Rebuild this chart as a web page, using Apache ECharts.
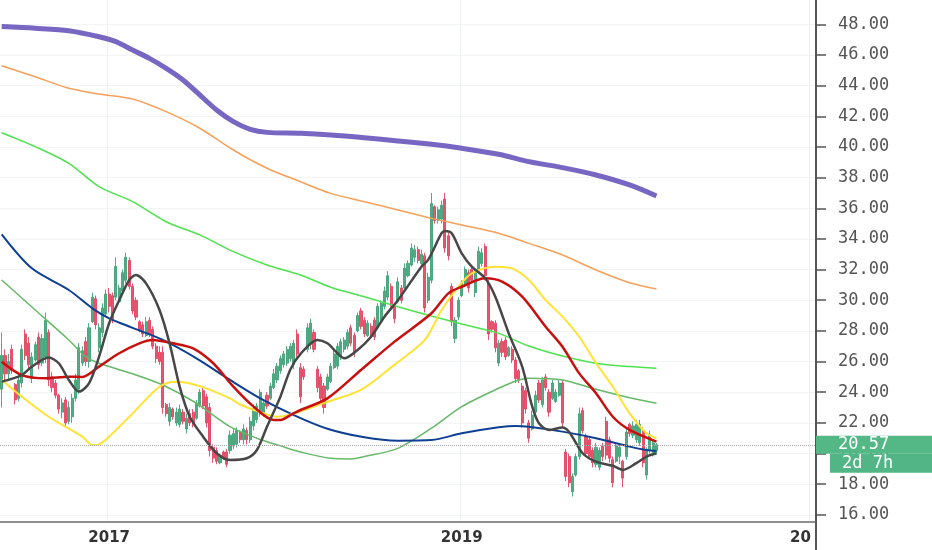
<!DOCTYPE html>
<html>
<head>
<meta charset="utf-8">
<script src="https://cdn.jsdelivr.net/npm/echarts@6.0.0/dist/echarts.min.js"></script>
<style>
  html, body { margin: 0; padding: 0; background: #fff; }
  #chart { width: 932px; height: 550px; }
</style>
</head>
<body>
<div id="chart"></div>
<script>
// weekly bars, first bar week of 2016-05-23
const firstWeek = Date.UTC(2016, 4, 23);
const weekCount = 243;

// [open, close, low, high] per week
const candles = [
  [24.2,26.4,23.0,27.9],[26.4,25.2,24.6,26.8],[25.2,26.0,24.8,26.5],[26.8,25.4,25.2,27.1],[24.5,23.5,23.2,24.6],
  [23.6,24.8,23.4,25.2],[24.6,26.8,24.3,27.1],[27.8,26.4,26.1,28.1],[27.2,25.8,25.4,27.6],[24.9,26.3,24.6,26.6],
  [26.1,27.1,26.0,27.3],[27.6,25.8,25.5,27.9],[25.9,27.5,25.7,27.8],[26.3,28.7,25.9,29.2],[27.9,24.8,24.4,28.1],
  [25.0,24.3,24.0,25.3],[24.6,23.8,23.6,24.8],[23.8,22.9,22.6,23.9],[22.7,23.3,22.3,23.6],[23.5,22.0,21.7,23.7],
  [22.1,23.0,21.9,23.4],[22.4,23.6,22.0,23.9],[23.6,24.8,23.4,25.2],[24.2,26.9,23.9,27.2],[25.9,26.7,25.7,27.0],
  [27.3,26.0,25.7,27.6],[26.0,28.2,25.6,28.5],[28.6,30.2,28.5,30.5],[30.1,28.4,28.1,30.3],[26.9,28.2,26.6,28.5],
  [27.9,29.5,27.6,29.8],[29.1,30.4,28.9,30.7],[30.4,29.6,29.2,30.8],[30.3,28.8,28.5,30.5],[30.2,32.2,30.0,32.8],
  [29.9,30.8,29.8,31.0],[30.6,31.8,30.5,32.0],[31.3,32.8,31.1,33.1],[32.6,30.9,30.7,32.8],[30.9,29.3,29.1,31.1],
  [30.0,28.9,28.7,30.2],[28.6,28.0,27.9,28.7],[28.4,27.8,27.6,28.6],[27.7,28.6,27.6,28.9],[28.7,27.8,27.6,28.9],
  [28.1,27.0,26.8,28.3],[27.0,26.2,25.9,27.2],[26.6,26.0,25.8,27.0],[26.6,23.0,22.6,27.0],[23.2,22.6,22.4,23.3],
  [22.1,23.0,21.8,23.3],[22.9,22.4,22.2,23.0],[22.0,22.7,21.8,23.0],[21.9,22.9,21.7,23.2],[22.7,22.1,21.9,22.9],
  [21.6,22.3,21.3,22.6],[22.6,22.0,21.8,22.9],[22.7,21.9,21.7,22.9],[22.3,23.3,22.2,23.5],[23.1,24.0,23.0,24.2],
  [24.1,23.1,22.9,24.3],[23.7,22.0,21.7,23.9],[23.0,20.2,19.8,23.3],[20.4,19.7,19.4,20.6],[20.2,19.5,19.3,20.4],
  [19.4,19.9,19.3,20.0],[20.1,19.7,19.6,20.2],[20.1,19.3,19.1,20.3],[20.2,21.2,20.0,21.5],[20.5,21.3,20.3,21.6],
  [20.6,21.5,20.4,21.7],[21.4,20.9,20.7,21.5],[20.9,21.6,20.6,21.9],[21.5,20.9,20.6,21.7],[20.9,22.1,20.7,22.4],
  [21.8,22.9,21.5,23.2],[22.2,23.1,22.0,23.3],[22.6,24.0,22.4,24.2],[22.6,23.3,22.4,23.5],[23.8,23.1,22.9,24.0],
  [23.6,24.4,23.5,24.6],[24.3,25.2,24.2,25.5],[24.8,25.7,24.6,25.9],[25.4,26.2,25.2,26.4],[25.8,26.5,25.6,26.7],
  [25.9,26.8,25.7,27.0],[26.2,27.0,26.0,27.2],[25.8,27.2,25.5,27.4],[27.8,26.5,26.3,28.1],[25.6,23.7,23.3,25.9],
  [25.5,25.0,24.8,25.7],[26.8,28.2,26.6,28.5],[27.1,28.5,26.8,28.8],[27.9,26.8,26.6,28.1],[25.5,24.3,24.0,25.7],
  [25.0,23.6,23.3,25.2],[24.4,23.0,22.6,24.6],[24.2,25.0,24.1,25.2],[24.7,25.7,24.6,25.9],[25.6,26.5,25.5,26.8],
  [25.7,27.0,25.5,27.2],[26.3,27.3,26.1,27.5],[26.8,27.4,26.6,27.6],[27.0,27.9,26.8,28.1],[28.2,27.2,27.0,28.4],
  [27.7,26.6,26.3,27.9],[28.0,29.0,27.9,29.2],[29.3,28.3,28.1,29.5],[28.7,27.8,27.6,28.9],[27.7,28.5,27.6,28.7],
  [28.3,27.8,27.6,28.5],[28.7,27.6,27.4,28.9],[28.2,29.6,28.1,29.8],[28.7,29.8,28.5,30.0],[29.6,30.6,29.4,30.9],
  [30.2,31.6,30.0,31.9],[30.9,29.6,29.3,31.1],[29.6,28.8,28.5,29.8],[29.9,31.2,29.8,31.5],[30.8,30.0,29.8,31.0],
  [30.8,32.1,30.7,32.4],[31.6,32.4,31.5,32.6],[32.3,33.4,32.2,33.7],[32.8,33.3,32.5,33.6],[33.3,32.6,32.4,33.5],
  [32.4,33.0,32.2,33.3],[32.9,29.5,29.2,33.1],[30.0,31.5,29.8,31.8],[31.3,36.3,31.1,37.0],[36.1,35.2,35.0,36.2],
  [35.2,35.9,35.0,36.1],[35.3,36.2,35.0,36.5],[36.6,33.4,33.1,37.0],[34.2,32.9,32.6,34.4],[30.9,28.6,28.3,31.1],
  [27.5,28.7,27.2,28.9],[28.9,30.0,28.7,30.2],[30.3,31.1,30.2,31.3],[31.0,32.0,30.9,32.2],[31.8,30.8,30.5,32.0],
  [32.0,31.3,31.1,32.2],[30.5,31.8,30.2,32.0],[31.9,33.2,31.8,33.5],[32.4,33.1,32.2,33.4],[33.5,31.6,31.3,33.7],
  [31.1,27.8,27.4,31.3],[28.6,28.1,27.9,28.7],[28.5,26.9,26.6,28.7],[25.9,27.2,25.7,27.4],[27.3,26.6,26.3,27.5],
  [27.4,26.3,26.1,27.6],[26.4,26.9,26.3,27.0],[26.8,26.1,25.9,27.0],[26.1,24.9,24.6,26.3],[25.4,24.8,24.6,25.5],
  [24.4,22.0,21.7,24.6],[24.1,22.9,22.6,24.3],[22.0,21.0,20.7,22.2],[21.6,22.5,21.5,22.8],[22.7,23.8,22.6,24.1],
  [24.6,23.5,23.3,24.8],[23.2,24.8,23.0,25.0],[25.0,24.3,24.1,25.2],[24.0,22.7,22.4,24.2],[23.6,24.6,23.5,24.8],
  [23.4,24.0,23.3,24.2],[23.8,24.6,23.7,24.8],[24.6,22.0,21.7,24.8],[20.1,18.5,18.2,20.3],[19.8,18.1,17.8,20.0],
  [17.5,18.5,17.2,18.7],[18.6,19.8,18.5,20.0],[19.8,22.6,19.6,23.0],[22.8,21.5,21.3,23.0],[21.1,20.0,19.8,21.3],
  [20.9,19.8,19.6,21.1],[20.2,19.4,19.1,20.4],[19.3,20.4,19.1,20.7],[19.1,20.2,18.9,20.4],[20.5,19.8,19.5,20.7],
  [22.1,19.9,19.6,22.4],[20.9,19.7,19.4,21.1],[19.6,18.1,17.8,19.8],[19.5,20.5,19.4,20.7],[19.8,20.4,19.3,20.6],
  [19.5,18.4,17.8,19.6],[19.8,21.4,19.6,21.7],[21.9,21.3,21.1,22.0],[21.2,21.8,21.0,22.1],[20.9,21.9,20.7,22.2],
  [20.7,21.9,20.5,22.2],[21.5,19.4,19.1,21.7],[18.6,20.2,18.3,20.4],[20.2,21.2,20.0,21.5],[20.0,20.7,19.8,20.9],
  [20.2,20.57,20.0,20.7]
];
const lastClose = 20.57;
const countdown = '2d 7h';

// moving averages as [week index, value]
const maPurple = [[0,47.85],[10,47.74],[20,47.58],[29,47.19],[34,46.87],[39,46.32],[44,45.78],[49,45.13],[54,44.37],[59,43.39],[64,42.41],[69,41.65],[74,41.15],[79,40.95],[89,40.89],[98,40.78],[108,40.6],[118,40.39],[128,40.17],[137,39.91],[148,39.52],[157,39.04],[167,38.65],[177,38.17],[187,37.52],[195,36.8]];
const maOrange = [[0,45.3],[10,44.58],[20,43.83],[29,43.45],[39,43.13],[49,42.3],[59,41.22],[69,39.8],[79,38.61],[89,37.73],[98,36.97],[108,36.43],[118,35.89],[128,35.34],[137,34.91],[148,34.37],[157,33.71],[167,32.95],[177,31.97],[187,31.14],[195,30.73]];
const maLime = [[0,40.93],[10,40.02],[20,38.93],[29,37.41],[39,36.43],[49,35.12],[59,34.26],[69,33.17],[79,32.3],[89,31.65],[98,30.85],[108,30.23],[118,29.58],[128,28.97],[137,28.45],[148,27.84],[157,27.01],[167,26.36],[177,25.89],[187,25.67],[195,25.56]];
const maGreen = [[0,31.32],[10,29.36],[20,27.41],[25,26.32],[29,25.89],[39,25.2],[48,24.47],[58,23.28],[68,21.75],[76,21.0],[83,20.5],[89,20.1],[98,19.69],[104,19.65],[108,19.8],[118,20.34],[128,21.65],[137,23.06],[148,24.26],[154,24.8],[157,24.91],[167,24.8],[177,24.19],[187,23.64],[195,23.28]];
const maBlue = [[0,34.3],[9,32.08],[20,30.67],[27,29.47],[32,28.82],[39,28.2],[48,27.41],[58,26.21],[68,24.8],[77,23.6],[87,22.51],[97,21.62],[108,21.06],[118,20.84],[128,20.88],[137,21.32],[148,21.71],[153,21.8],[157,21.75],[167,21.43],[177,21.0],[187,20.45],[192,20.23],[195,20.17]];
const maYellow = [[0,24.8],[6,23.71],[14,22.4],[24,21.1],[27,20.56],[29,20.6],[32,21.1],[39,22.62],[47,24.36],[52,24.69],[59,24.4],[68,23.6],[71,23.2],[77,22.7],[82,22.4],[86,22.55],[97,23.38],[107,24.15],[117,25.8],[126,27.41],[131,29.36],[136,30.88],[140,31.76],[147,32.19],[152,32.08],[157,31.32],[162,30.01],[167,28.93],[172,27.62],[177,25.89],[182,24.36],[187,22.62],[192,21.32],[195,21.0]];
const maRed = [[0,25.99],[6,25.12],[13,24.91],[20,25.01],[24,25.0],[29,25.67],[35,26.54],[41,27.19],[45,27.41],[51,27.19],[57,26.86],[63,25.89],[69,24.36],[75,23.06],[81,22.19],[83,22.19],[86,22.51],[89,22.84],[97,23.6],[107,25.45],[117,27.3],[128,29.15],[133,30.45],[137,30.88],[144,31.43],[149,31.21],[155,30.23],[162,28.27],[167,26.97],[172,25.23],[177,23.93],[182,22.4],[187,21.54],[195,20.78]];
const maBlack = [[0,24.69],[6,25.12],[9,25.67],[14,26.26],[17,25.89],[20,24.8],[23,24.04],[26,24.58],[29,26.32],[32,28.5],[35,30.0],[38,31.32],[40,31.64],[43,31.1],[47,29.36],[50,27.19],[53,24.36],[56,22.4],[60,21.1],[64,20.02],[68,19.58],[73,19.69],[76,20.23],[79,21.75],[83,23.71],[86,25.5],[89,26.5],[94,27.41],[97,27.19],[100,26.54],[102,26.21],[106,26.76],[110,27.62],[114,28.93],[118,30.0],[125,32.19],[127,32.63],[131,34.37],[132,34.52],[134,34.37],[137,33.06],[140,32.19],[144,31.43],[147,30.23],[151,27.84],[155,25.67],[158,23.06],[160,21.97],[163,21.54],[167,21.7],[169,21.4],[173,20.02],[177,19.47],[182,19.2],[185,18.93],[189,19.37],[192,19.8],[195,20.02]];

const priceTicks = [16,18,20,22,24,26,28,30,32,34,36,38,40,42,44,46,48];

const weeks = [];
const yearMarks = {};
let prevYear = null;
for (let i = 0; i < weekCount; i++) {
  const d = new Date(firstWeek + i * 7 * 86400000);
  const y = d.getUTCFullYear();
  weeks.push(d.toISOString().slice(0, 10));
  if (prevYear !== null && y !== prevYear && y % 2 === 1) yearMarks[i] = y;
  prevYear = y;
}

const monoFont = 'DejaVu Sans Mono';

function maLine(data, color, width) {
  return {
    type: 'line', data: data, showSymbol: false, smooth: 0.3,
    lineStyle: { color: color, width: width }, itemStyle: { color: color },
    silent: true, z: 3
  };
}

const chart = echarts.init(document.getElementById('chart'));
chart.setOption({
  animation: false,
  backgroundColor: '#ffffff',
  grid: { left: 0, right: 116, top: 0, bottom: 28 },
  xAxis: {
    type: 'category',
    data: weeks,
    boundaryGap: true,
    axisLine: { lineStyle: { color: '#6a6a6a', width: 1.5 } },
    axisTick: { show: false },
    axisLabel: {
      interval: (idx) => yearMarks[idx] !== undefined,
      formatter: (val, idx) => {
        const y = yearMarks[idx];
        if (y === undefined) return '';
        return y === 2021 ? '20\u00a0\u00a0\u00a0\u00a0' : String(y);
      },
      color: '#333', fontSize: 15, fontWeight: 'bold', fontFamily: 'DejaVu Sans', margin: 9
    },
    splitLine: {
      show: true,
      interval: (idx) => yearMarks[idx] !== undefined,
      lineStyle: { color: '#edf0f3', width: 1 }
    }
  },
  yAxis: {
    type: 'value',
    position: 'right',
    min: 15.534,
    max: 49.585,
    scale: true,
    axisLine: { show: true, lineStyle: { color: '#555', width: 2 } },
    axisTick: { show: true, length: 10, lineStyle: { color: '#555', width: 1.5 }, customValues: priceTicks },
    axisLabel: {
      customValues: priceTicks,
      formatter: (v) => v.toFixed(2),
      color: '#555', fontSize: 17, fontFamily: monoFont, margin: 22
    },
    splitLine: { show: true, lineStyle: { color: '#f3f4f6' } }
  },
  visualMap: [{
    type: 'piecewise', show: false, seriesIndex: 4, dimension: 0,
    pieces: [
      { lt: 104, color: '#66b968' },
      { gte: 104, lt: 157, color: '#2f8c35' },
      { gte: 157, color: '#64bb64' }
    ]
  }],
  series: [
    {
      type: 'candlestick',
      data: candles,
      barWidth: 2.6,
      itemStyle: {
        color: '#3fa277', color0: '#e2445f',
        borderColor: '#3fa277', borderColor0: '#e2445f', borderWidth: 1, opacity: 0.9
      },
      z: 2,
      markLine: {
        silent: true,
        symbol: ['none', 'none'],
        lineStyle: { type: 'dotted', color: '#a8a8a8', width: 1 },
        label: { show: false },
        data: [{ yAxis: lastClose }]
      }
    },
    maLine(maPurple, '#7767c2', 5),
    maLine(maOrange, '#f6a05a', 1.5),
    maLine(maLime, '#4ee24e', 1.5),
    maLine(maGreen, '#66b968', 1.5),
    maLine(maBlue, '#0e3f93', 2),
    maLine(maYellow, '#ffe234', 2),
    maLine(maRed, '#c8100f', 2.5),
    maLine(maBlack, '#474747', 2.5)
  ]
});

// price tag + bar countdown next to the last close, placed through the y scale
const yPix = chart.convertToPixel({ yAxisIndex: 0 }, lastClose);
const [axisX, axisBottom] = chart.convertToPixel({ gridIndex: 0 }, [weekCount - 0.5, 15.534]);
chart.setOption({
  graphic: [
    { type: 'line', z: 50, shape: { x1: 816, y1: axisBottom, x2: 816, y2: 550 }, style: { stroke: '#555', lineWidth: 2 } },
    { type: 'rect', z: 100, shape: { x: 816, y: yPix - 9, width: 116, height: 18 }, style: { fill: '#53b886' } },
    { type: 'text', z: 101, x: 838, y: yPix, style: { text: lastClose.toFixed(2), fill: '#fff', font: '17px "DejaVu Sans Mono"', verticalAlign: 'middle' } },
    { type: 'rect', z: 100, shape: { x: 830, y: yPix + 9, width: 102, height: 19 }, style: { fill: '#52b585' } },
    { type: 'text', z: 101, x: 842, y: yPix + 18.5, style: { text: countdown, fill: '#fff', font: '17px "DejaVu Sans Mono"', verticalAlign: 'middle' } }
  ]
});
</script>
</body>
</html>
